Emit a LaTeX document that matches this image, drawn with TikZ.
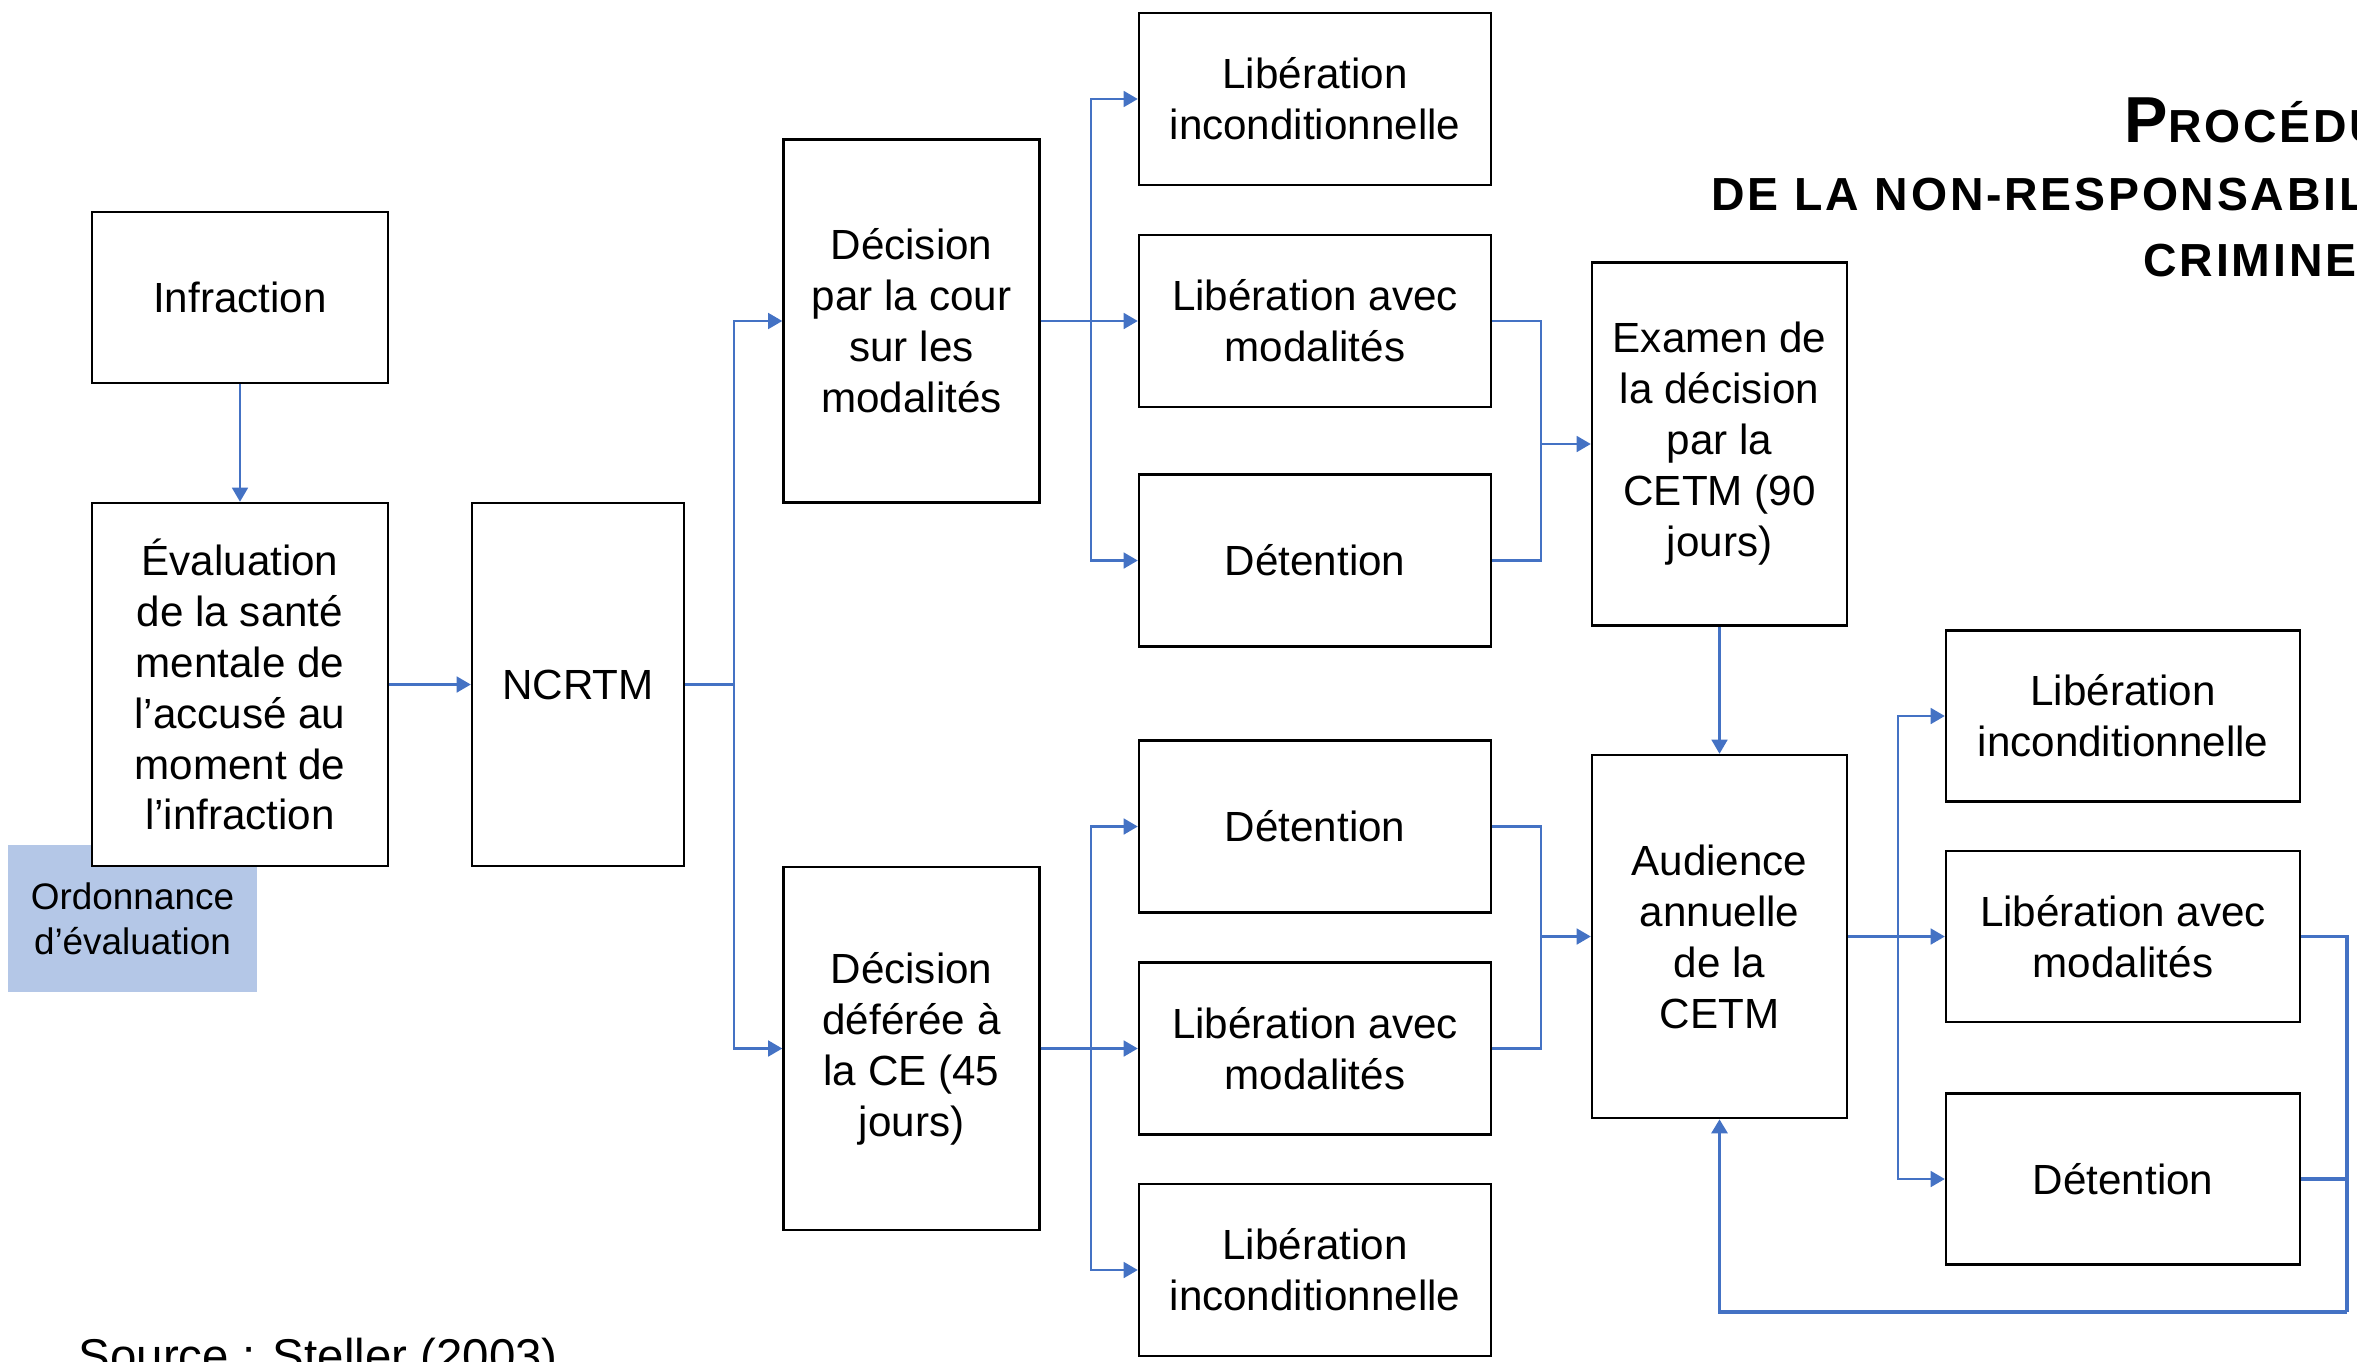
\documentclass[tikz,border=0pt]{standalone}
\usepackage{fontspec}
\setmainfont{Liberation Sans}
\newfontfamily\titlefont[LetterSpace=6]{Liberation Sans}
\usetikzlibrary{arrows.meta,calc}
\definecolor{linkblue}{HTML}{4472C4}
\definecolor{ordfill}{HTML}{B4C7E7}

\begin{document}
\begin{tikzpicture}[x=0.1mm,y=-0.1mm,
    box/.style={draw,line width=0.7pt,fill=white,align=center,inner sep=0pt,
      font=\fontsize{12pt}{14.5pt}\selectfont},
    tall/.style={box,minimum width=25.6mm,minimum height=36.3mm},
    wide/.style={box,minimum width=35.2mm,minimum height=17.2mm},
    wire/.style={draw=linkblue,line width=0.6pt},
    link/.style={wire,-{Triangle[length=4pt,width=4.5pt]}},
    titre/.style={anchor=base west,inner sep=0pt,font=\titlefont\bfseries}]
    \useasboundingbox (0,0) rectangle (2357,1361);
    \clip (0,0) rectangle (2357,1361);
    % title
    \node[titre] (t1) at (2124,142) {\fontsize{18.5pt}{18pt}\selectfont P\fontsize{13.2pt}{13pt}\selectfont ROCÉDURE};
    \node[titre] (t2) at (1711,210) {\fontsize{13.2pt}{13pt}\selectfont DE LA NON-RESPONSABILITÉ};
    \node[titre] (t3) at (2143,276) {\fontsize{13.2pt}{13pt}\selectfont CRIMINELLE};
    % left part
    \node[box,minimum width=29.6mm,minimum height=17.1mm] (inf) at (240,297.5) {Infraction};
    \node[fill=ordfill,minimum width=24.9mm,minimum height=14.7mm,inner sep=0pt,align=center,
      font=\fontsize{10.5pt}{12.8pt}\selectfont] (ord) at (132.5,918.5) {Ordonnance\\d’évaluation};
    \node[box,minimum width=29.6mm,minimum height=36.3mm] (eval) at (240,684.5)
      {Évaluation\\de la santé\\mentale de\\l’accusé au\\moment de\\l’infraction};
    \node[box,minimum width=21.2mm,minimum height=36.3mm] (ncrtm) at (578,684.5) {NCRTM};
    \node[tall] (dcour) at (911.5,321) {Décision\\par la cour\\sur les\\modalités};
    \node[tall] (ddef) at (911.5,1048.5) {Décision\\déférée à\\la CE (45\\jours)};
    % outcomes
    \node[wide] (l1) at (1315,99) {Libération\\inconditionnelle};
    \node[wide] (l2) at (1315,321) {Libération avec\\modalités};
    \node[wide] (d1) at (1315,560.5) {Détention};
    \node[wide] (d2) at (1315,826.5) {Détention};
    \node[wide] (l3) at (1315,1048.5) {Libération avec\\modalités};
    \node[wide] (l4) at (1315,1270) {Libération\\inconditionnelle};
    \node[tall,minimum width=25.5mm] (exam) at (1719.5,444)
      {Examen de\\la décision\\par la\\CETM (90\\jours)};
    \node[tall,minimum width=25.5mm] (aud) at (1719.5,936.5) {Audience\\annuelle\\de la\\CETM};
    \node[wide,minimum width=35.4mm,minimum height=17.1mm] (r1) at (2123,716) {Libération\\inconditionnelle};
    \node[wide,minimum width=35.4mm,minimum height=17.1mm] (r2) at (2123,936.5) {Libération avec\\modalités};
    \node[wide,minimum width=35.4mm,minimum height=17.1mm] (r3) at (2123,1179) {Détention};
    % connectors
    \draw[link] (inf) -- (eval);
    \draw[link] (eval) -- (ncrtm);
    \draw[link] (ncrtm.east) -- ++(49,0) |- (dcour.west);
    \draw[link] (ncrtm.east) -- ++(49,0) |- (ddef.west);
    \foreach \b in {l1,l2,d1}
        \draw[link] (dcour.east) -- ++(50,0) |- (\b.west);
    \foreach \b in {d2,l3,l4}
        \draw[link] (ddef.east) -- ++(50,0) |- (\b.west);
    \coordinate (j1) at (1541,444);
    \foreach \b in {l2,d1}
        \draw[wire] (\b.east) -| (j1);
    \draw[link] (j1) -- (exam.west);
    \draw[link] (exam) -- (aud);
    \coordinate (j2) at (1541,936.5);
    \foreach \b in {d2,l3}
        \draw[wire] (\b.east) -| (j2);
    \draw[link] (j2) -- (aud.west);
    \foreach \b in {r1,r2,r3}
        \draw[link] (aud.east) -- ++(50,0) |- (\b.west);
    \coordinate (j3) at (2347,1312);
    \foreach \b in {r2,r3}
        \draw[wire,line width=0.9pt] (\b.east) -| (j3);
    \draw[link,line width=0.9pt] (j3) -| (aud.south);
    % source
    \node[anchor=base west,inner sep=0pt,font=\fontsize{13.5pt}{16pt}\selectfont] (src) at (78,1372) {Source : Steller (2003)};
\end{tikzpicture}
\end{document}
